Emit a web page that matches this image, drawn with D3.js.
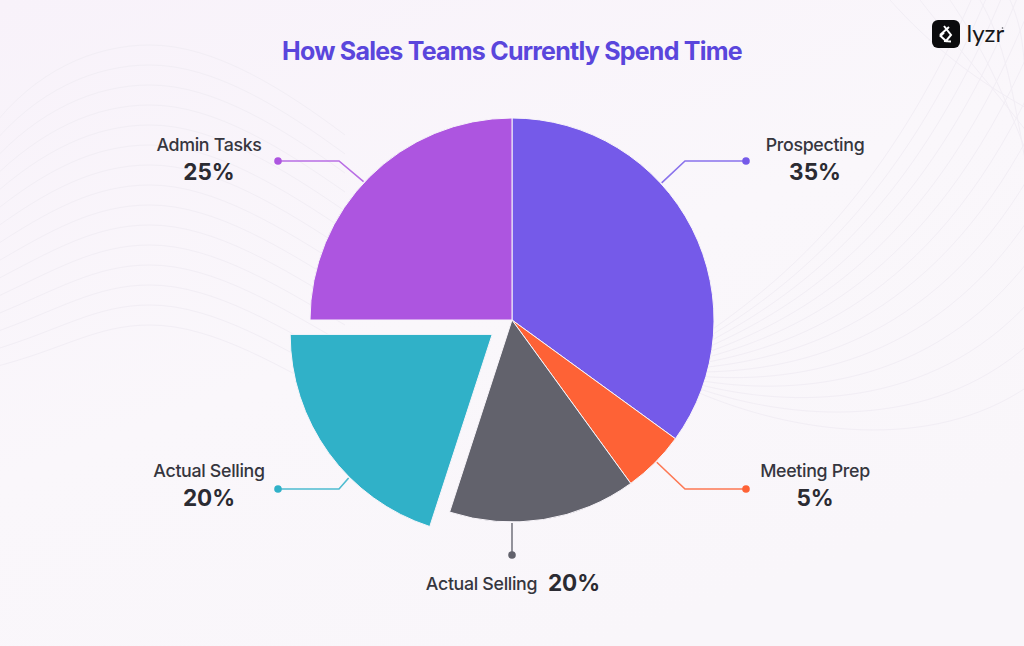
<!DOCTYPE html>
<html>
<head>
<meta charset="utf-8">
<script src="https://cdn.jsdelivr.net/npm/d3@7"></script>
<style>
  html, body { margin: 0; padding: 0; background: #f8f5fa; }
  svg { display: block; font-family: Inter, "Noto Sans", sans-serif; }
</style>
</head>
<body>
<svg id="chart" width="1024" height="646"></svg>
<script>
// DATA
const title = "How Sales Teams Currently Spend Time"
const categories = ["Prospecting", "Meeting Prep", "Actual Selling", "Actual Selling", "Admin Tasks"]
// slice sizes
const shares = [35, 5, 15, 20, 25]
// printed labels (the grey slice says 20% although it is drawn smaller)
const printed = ["35%", "5%", "20%", "20%", "25%"]
const colors = ["#755ae9", "#fe6236", "#62626c", "#30b1c8", "#ad55e0"]

const width = 1024, height = 646
const cx = 512, cy = 320, radius = 202
const explode = [0, 0, 0, 24.5, 0]

const svg = d3.select("#chart")

// BACKGROUND
const defs = svg.append("defs")
const bg = defs.append("linearGradient").attr("id", "bg")
    .attr("x1", 0).attr("y1", 0).attr("x2", 0.6).attr("y2", 1)
bg.append("stop").attr("offset", 0).attr("stop-color", "#f8f2fa")
bg.append("stop").attr("offset", 0.55).attr("stop-color", "#faf7fb")
bg.append("stop").attr("offset", 1).attr("stop-color", "#f9f6fa")
svg.append("rect").attr("width", width).attr("height", height).attr("fill", "url(#bg)")

// faint decorative lines behind the chart
const deco = svg.append("g").attr("fill", "none").attr("stroke", "#f2eef5").attr("stroke-width", 1)
d3.range(15).forEach(i => {
    const t = 45 + i * 20
    deco.append("path").attr("d",
        `M${-10},${t + 85 - i * 3} C${35 + i * 2},${t + 25} ${95},${t} ${150},${t}` +
        ` C${215},${t} ${285},${t + 45} ${345},${t + 90 - i}`)
})
d3.range(14).forEach(i => {
    deco.append("path").attr("d",
        `M697,${392 - i * 4} C${790},${432 - i * 12} ${930},${455 - i * 22} ${1030},${385 - i * 42}`)
})
d3.range(5).forEach(i => {
    deco.append("path").attr("d", `M${890 + i * 30},0 C${930 + i * 25},45 ${975 + i * 12},80 ${1030},${110 + i * 26}`)
})

// TITLE
svg.append("text")
    .attr("x", cx).attr("y", 60)
    .attr("text-anchor", "middle")
    .attr("font-size", 25)
    .attr("font-weight", 700)
    .attr("letter-spacing", -0.77)
    .attr("fill", "#5a46dc")
    .text(title)

// PIE
const pie = d3.pie().sort(null).value(d => d)
const arcs = pie(shares)
const arc = d3.arc().innerRadius(0).outerRadius(radius)

const pieG = svg.append("g").attr("transform", `translate(${cx},${cy})`)
pieG.selectAll("path")
    .data(arcs)
    .join("path")
      .attr("d", arc)
      .attr("fill", (d, i) => colors[i])
      .attr("stroke", "#f8f5fa")
      .attr("stroke-width", 1)
      .attr("transform", (d, i) => {
          const mid = (d.startAngle + d.endAngle) / 2
          return `translate(${Math.sin(mid) * explode[i]},${-Math.cos(mid) * explode[i]})`
      })

// LEADERS AND LABELS
// anchor = angle on the rim in degrees, elbow/dot = where the line bends and ends
const leaders = [
    { anchor: 47.5, elbow: [685, 161], dot: [746, 161], text: [815, 150], inline: false },
    { anchor: 134.5, elbow: [685, 489], dot: [746, 489], text: [815, 476], inline: false },
    { anchor: 180, elbow: null, dot: [512, 555], text: [481.5, 589], inline: true },
    { anchor: 225, elbow: [339, 489], dot: [278, 489], text: [209, 476], inline: false },
    { anchor: 313, elbow: [339, 161], dot: [278, 161], text: [209, 150], inline: false }
]

leaders.forEach((l, i) => {
    const a = l.anchor * Math.PI / 180
    const mid = (arcs[i].startAngle + arcs[i].endAngle) / 2
    const sx = cx + Math.sin(a) * (radius + 1) + Math.sin(mid) * explode[i]
    const sy = cy - Math.cos(a) * (radius + 1) - Math.cos(mid) * explode[i]
    const pts = [[sx, sy]]
    if (l.elbow) pts.push(l.elbow)
    pts.push(l.dot)
    svg.append("path")
        .attr("d", d3.line()(pts))
        .attr("fill", "none")
        .attr("stroke", colors[i])
        .attr("stroke-opacity", 0.85)
        .attr("stroke-width", 1.6)
    svg.append("circle")
        .attr("cx", l.dot[0]).attr("cy", l.dot[1])
        .attr("r", 3.8)
        .attr("fill", colors[i])

    svg.append("text")
        .attr("x", l.text[0]).attr("y", l.text[1] + 0.5)
        .attr("text-anchor", "middle")
        .attr("font-size", 17.8)
        .attr("font-weight", 500)
        .attr("letter-spacing", -0.32)
        .attr("fill", "#36363e")
        .text(categories[i])
    const pct = svg.append("text")
        .attr("font-weight", 700)
        .attr("font-size", 22.5)
        .attr("fill", "#2b2b32")
        .attr("text-anchor", "middle")
        .text(printed[i])
    if (l.inline) {
        pct.attr("x", 574).attr("y", l.text[1] + 2)
    } else {
        pct.attr("x", l.text[0]).attr("y", l.text[1] + 30)
    }
})

// LOGO
const logo = svg.append("g").attr("transform", "translate(932,20)")
logo.append("rect").attr("width", 28).attr("height", 28).attr("rx", 6).attr("fill", "#0b0b0d")
logo.append("path")
    .attr("d", "M12,6 L19,15 L14,21 L8.5,16 L12,12.5 M17,7 L8,15 M12,21 L19,21.5")
    .attr("fill", "none")
    .attr("stroke", "#fff")
    .attr("stroke-width", 2)
svg.append("text")
    .attr("x", 966.5).attr("y", 42)
    .attr("font-family", "Lato, Inter, sans-serif")
    .attr("font-size", 24)
    .attr("fill", "#17171a")
    .text("lyzr")
svg.append("circle").attr("cx", 1002.5).attr("cy", 28).attr("r", 0.8).attr("fill", "#55555c")
</script>
</body>
</html>
